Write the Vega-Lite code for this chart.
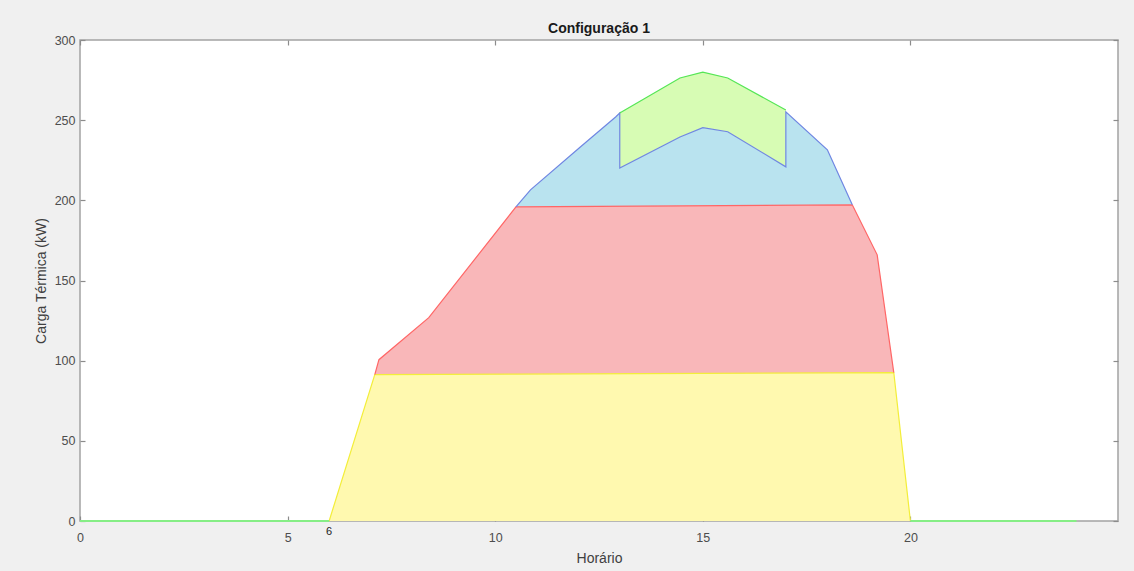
{
  "$schema": "https://vega.github.io/schema/vega-lite/v6.json",
  "width": 1038,
  "height": 481,
  "autosize": {"type": "none"},
  "padding": {"left": 80, "top": 40, "right": 16, "bottom": 50},
  "background": "#f0f0f0",
  "title": {
    "text": "Configuração 1",
    "font": "Liberation Sans",
    "fontSize": 14,
    "fontWeight": "bold",
    "color": "#1a1a1a",
    "anchor": "middle",
    "offset": -2
  },
  "config": {
    "view": {"fill": "white", "stroke": "#a3a3a3", "strokeWidth": 1.5},
    "axis": {
      "domain": false,
      "grid": false,
      "tickSize": -5,
      "tickColor": "#8c8c8c",
      "tickWidth": 1.2,
      "labelFlush": false,
      "labelFont": "Liberation Sans",
      "labelFontSize": 12.5,
      "labelColor": "#4d4d4d",
      "titleFont": "Liberation Sans",
      "titleFontSize": 14,
      "titleFontWeight": "normal",
      "titleColor": "#404040"
    }
  },
  "datasets": {
    "bands": [
      {"band": "yellow", "i": 1, "x": 6, "top": 0, "bottom": 0},
      {"band": "yellow", "i": 2, "x": 7.1, "top": 91.3, "bottom": 0},
      {"band": "yellow", "i": 3, "x": 10.5, "top": 91.6, "bottom": 0},
      {"band": "yellow", "i": 4, "x": 19.6, "top": 92.5, "bottom": 0},
      {"band": "yellow", "i": 5, "x": 20, "top": 0, "bottom": 0},

      {"band": "red", "i": 1, "x": 7.1, "top": 91.3, "bottom": 91.3},
      {"band": "red", "i": 2, "x": 7.2, "top": 100.6, "bottom": 91.3},
      {"band": "red", "i": 3, "x": 8.4, "top": 126.8, "bottom": 91.4},
      {"band": "red", "i": 4, "x": 10.5, "top": 195.9, "bottom": 91.6},
      {"band": "red", "i": 5, "x": 18.6, "top": 197.2, "bottom": 92.3},
      {"band": "red", "i": 6, "x": 19.2, "top": 166, "bottom": 92.4},
      {"band": "red", "i": 7, "x": 19.6, "top": 92.5, "bottom": 92.5},

      {"band": "blue", "i": 1, "x": 10.5, "top": 195.9, "bottom": 195.9},
      {"band": "blue", "i": 2, "x": 10.85, "top": 206.5, "bottom": 196},
      {"band": "blue", "i": 3, "x": 12.05, "top": 233.3, "bottom": 196.2},
      {"band": "blue", "i": 4, "x": 12.9, "top": 252, "bottom": 196.3},
      {"band": "blue", "i": 5, "x": 13, "top": 254.5, "bottom": 196.3},
      {"band": "blue", "i": 6, "x": 13, "top": 220.2, "bottom": 196.3},
      {"band": "blue", "i": 7, "x": 14.45, "top": 239.5, "bottom": 196.6},
      {"band": "blue", "i": 8, "x": 15, "top": 245.3, "bottom": 196.7},
      {"band": "blue", "i": 9, "x": 15.6, "top": 242.8, "bottom": 196.8},
      {"band": "blue", "i": 10, "x": 17, "top": 220.9, "bottom": 197},
      {"band": "blue", "i": 11, "x": 17, "top": 255.2, "bottom": 197},
      {"band": "blue", "i": 12, "x": 18, "top": 231.5, "bottom": 197.1},
      {"band": "blue", "i": 13, "x": 18.6, "top": 197.2, "bottom": 197.2},

      {"band": "green", "i": 1, "x": 13, "top": 254.5, "bottom": 220.2},
      {"band": "green", "i": 2, "x": 14.45, "top": 276.3, "bottom": 239.5},
      {"band": "green", "i": 3, "x": 15, "top": 280, "bottom": 245.3},
      {"band": "green", "i": 4, "x": 15.6, "top": 276.3, "bottom": 242.8},
      {"band": "green", "i": 5, "x": 17, "top": 256.3, "bottom": 220.9}
    ],
    "baseline": [
      {"band": "green", "seg": "before", "i": 1, "x": 0, "top": 0},
      {"band": "green", "seg": "before", "i": 2, "x": 6, "top": 0},
      {"band": "green", "seg": "after", "i": 1, "x": 20, "top": 0},
      {"band": "green", "seg": "after", "i": 2, "x": 24, "top": 0}
    ],
    "marks": [
      {"x": 6, "y": 0, "label": "6"}
    ]
  },
  "layer": [
    {
      "data": {"name": "bands"},
      "mark": {"type": "area", "fillOpacity": 1, "stroke": null},
      "encoding": {
        "x": {
          "field": "x", "type": "quantitative",
          "scale": {"domain": [0, 25], "nice": false, "zero": false},
          "axis": {"orient": "bottom", "values": [0, 5, 10, 15, 20], "title": "Horário", "labelPadding": 15, "titlePadding": 8}
        },
        "y": {
          "field": "top", "type": "quantitative",
          "scale": {"domain": [0, 300], "nice": false},
          "axis": {"orient": "left", "values": [0, 50, 100, 150, 200, 250, 300], "title": "Carga Térmica (kW)", "labelPadding": 10, "titlePadding": 6}
        },
        "y2": {"field": "bottom"},
        "color": {
          "field": "band", "type": "nominal",
          "scale": {"domain": ["yellow", "red", "blue", "green"], "range": ["#fff9af", "#f9b7b9", "#b9e3ef", "#d7fcb4"]},
          "legend": null
        },
        "order": {"value": null}
      }
    },
    {
      "data": {"name": "bands"},
      "mark": {"type": "line", "strokeWidth": 1.2},
      "encoding": {
        "x": {
          "field": "x", "type": "quantitative",
          "axis": {"orient": "top", "values": [0, 5, 10, 15, 20], "labels": false, "title": null}
        },
        "y": {
          "field": "top", "type": "quantitative",
          "axis": {"orient": "right", "values": [0, 50, 100, 150, 200, 250, 300], "labels": false, "title": null}
        },
        "stroke": {
          "field": "band", "type": "nominal",
          "scale": {"domain": ["yellow", "red", "blue", "green"], "range": ["#f3ee3a", "#ff6666", "#6f86e2", "#55e655"]},
          "legend": null
        },
        "order": {"value": null}
      }
    },
    {
      "data": {"name": "baseline"},
      "mark": {"type": "line", "strokeWidth": 2, "color": "#86ee86"},
      "encoding": {
        "x": {"field": "x", "type": "quantitative", "axis": null},
        "y": {"field": "top", "type": "quantitative", "axis": null},
        "detail": {"field": "seg"},
        "order": {"field": "i", "type": "quantitative"}
      }
    },
    {
      "data": {"name": "marks"},
      "mark": {"type": "text", "font": "Liberation Sans", "fontSize": 11, "color": "#222222", "baseline": "top", "dy": 5},
      "encoding": {
        "x": {"field": "x", "type": "quantitative", "axis": null},
        "y": {"field": "y", "type": "quantitative", "axis": null},
        "text": {"field": "label"}
      }
    }
  ],
  "resolve": {"axis": {"x": "independent", "y": "independent"}}
}
